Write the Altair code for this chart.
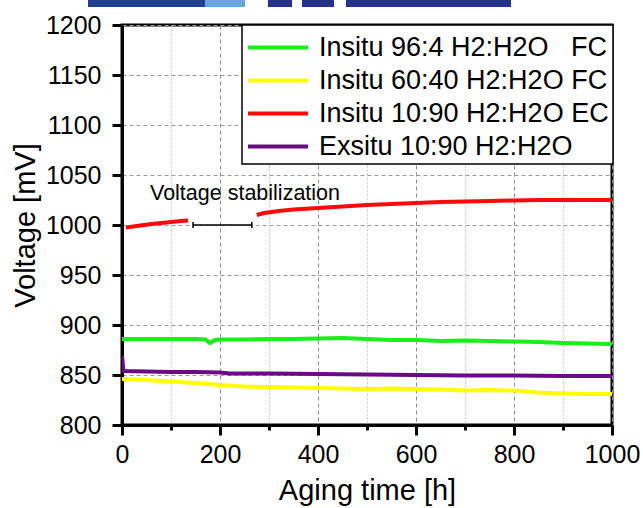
import altair as alt
import pandas as pd

FONT = "Liberation Sans"

# ---- series: aging time [h] and cell voltage [mV] ----
green_t = [0, 50, 100, 150, 170, 180, 190, 200, 250, 300, 350, 400, 450, 500,
           550, 600, 650, 700, 750, 800, 850, 900, 950, 1000]
green_v = [886, 886, 886, 886, 885.5, 882, 885, 885.5, 885.5, 886, 886, 886.5,
           887, 886, 885, 885, 884, 884.5, 884, 883.5, 883, 882, 881.5, 881]

yellow_t = [0, 50, 100, 150, 200, 250, 300, 350, 400, 450, 500, 550, 600, 650,
            700, 750, 800, 850, 900, 950, 1000]
yellow_v = [846, 845, 843.5, 842, 840, 838.5, 838, 837.5, 837, 836.5, 836,
            836.5, 836, 835.5, 834.5, 835, 834.5, 832.5, 831.5, 831, 831]

red_t_1 = [8, 30, 60, 90, 120, 135]
red_v_1 = [997.5, 999, 1001, 1002.5, 1004, 1004.5]
red_t_2 = [275, 290, 320, 350, 400, 450, 500, 550, 600, 650, 700, 750, 800,
           850, 900, 950, 1000]
red_v_2 = [1010, 1012, 1014, 1015.5, 1017, 1018.5, 1020, 1021, 1022, 1023,
           1023.5, 1024, 1024.5, 1025, 1025, 1025, 1025]

purple_t = [0, 3, 50, 100, 150, 200, 220, 300, 400, 500, 600, 700, 800, 900, 1000]
purple_v = [869, 854, 853.5, 853, 853, 852.5, 851.5, 851.5, 851, 850.5, 850,
            849.5, 849.5, 849, 849]

NBSP = "\u00a0"
series_names = ["Insitu 96:4 H2:H2O " + NBSP * 2 + "FC", "Insitu 60:40 H2:H2O FC",
                "Insitu 10:90 H2:H2O EC", "Exsitu 10:90 H2:H2O"]
series_colors = ["#19f019", "#ffff00", "#ff0a0a", "#6a0a84"]

# stabilization interval marker
stab_t = [145, 265]
stab_level = 1000
stab_cap = 3
stab_label = "Voltage stabilization"
stab_label_pos = (251, 1025)

# logo strip along the top edge (pixel extents)
logo_x0 = [-34, 83, 146, 180, 224]
logo_x1 = [86, 123, 170, 212, 389]
logo_col = ["#1f3f8f", "#6aa6e0", "#23318a", "#23318a", "#26338c"]

rows = []
for name, ts, vs, seg in [
    (series_names[0], green_t, green_v, "a"),
    (series_names[1], yellow_t, yellow_v, "b"),
    (series_names[2], red_t_1, red_v_1, "c1"),
    (series_names[2], red_t_2, red_v_2, "c2"),
    (series_names[3], purple_t, purple_v, "d"),
]:
    for t, v in zip(ts, vs):
        rows.append({"t": t, "v": v, "series": name, "seg": seg})
df = pd.DataFrame(rows)

x_scale = alt.Scale(domain=[0, 1000], nice=False, zero=False)
y_scale = alt.Scale(domain=[800, 1200], nice=False, zero=False)

major_x = "datum.value % 200 === 0"
major_y = "datum.value % 50 === 0"

x_axis = alt.Axis(
    values=list(range(0, 1001, 100)),
    format="d",
    labelExpr=f"{major_x} ? datum.label : ''",
    labelOverlap=False,
    labelFlush=False,
    tickSize={"condition": {"test": major_x, "value": 10}, "value": 5},
    grid=True,
    gridColor={"condition": {"test": major_x, "value": "#8c8c8c"}, "value": "#c4c4c4"},
    gridDash={"condition": {"test": major_x, "value": [4, 3]}, "value": [2, 2]},
    gridWidth=1,
    labelPadding=7,
    titlePadding=9,
    title="Aging time [h]",
)
y_axis = alt.Axis(
    values=list(range(800, 1201, 25)),
    format="d",
    labelExpr=f"{major_y} ? datum.label : ''",
    labelOverlap=False,
    labelFlush=False,
    tickSize={"condition": {"test": major_y, "value": 10}, "value": 5},
    grid=True,
    gridColor={"condition": {"test": major_y, "value": "#9a9a9a"}, "value": "#c4c4c4"},
    gridDash={"condition": {"test": major_y, "value": [4, 3]}, "value": [2, 2]},
    gridWidth=1,
    labelPadding=11,
    titlePadding=5,
    title="Voltage [mV]",
)

# legend swatch: a horizontal stroke drawn wider than its nominal symbol box
swatch_path = "M-1,0H2.64"

lines = alt.Chart(df).mark_line(strokeWidth=4, clip=True).encode(
    x=alt.X("t:Q", scale=x_scale, axis=x_axis),
    y=alt.Y("v:Q", scale=y_scale, axis=y_axis),
    color=alt.Color(
        "series:N",
        scale=alt.Scale(domain=series_names, range=series_colors),
        legend=alt.Legend(title=None, symbolType=swatch_path),
    ),
    detail="seg:N",
    order="t:Q",
)

bar_df = pd.DataFrame({"t": [stab_t[0]], "t2": [stab_t[1]], "v": [stab_level]})
bar = alt.Chart(bar_df).mark_rule(color="black", strokeWidth=1.5).encode(
    x=alt.X("t:Q", scale=x_scale), x2="t2:Q", y=alt.Y("v:Q", scale=y_scale)
)
cap_df = pd.DataFrame({"t": stab_t, "v": [stab_level - stab_cap] * 2,
                       "v2": [stab_level + stab_cap] * 2})
caps = alt.Chart(cap_df).mark_rule(color="black", strokeWidth=1.5).encode(
    x=alt.X("t:Q", scale=x_scale), y=alt.Y("v:Q", scale=y_scale), y2="v2:Q"
)
label_df = pd.DataFrame({"t": [stab_label_pos[0]], "v": [stab_label_pos[1]],
                         "txt": [stab_label]})
label = alt.Chart(label_df).mark_text(
    font=FONT, fontSize=21.5, align="center", baseline="alphabetic", color="black"
).encode(x=alt.X("t:Q", scale=x_scale), y=alt.Y("v:Q", scale=y_scale), text="txt:N")

logo_df = pd.DataFrame({"x0": logo_x0, "x1": logo_x1, "c": logo_col})
logo = alt.Chart(logo_df).mark_rect().encode(
    x=alt.X("x0:Q", scale=None), x2="x1:Q",
    y=alt.value(-25), y2=alt.value(-18),
    color=alt.Color("c:N", scale=None),
)

chart = alt.layer(lines, bar, caps, label, logo).properties(
    width=490, height=400,
    padding={"left": 122, "top": 25, "right": 31, "bottom": 83},
    autosize=alt.AutoSizeParams(type="none"),
).configure_view(
    stroke="black", strokeWidth=3
).configure_axis(
    domainColor="black", domainWidth=3, tickColor="black", tickWidth=3,
    labelFont=FONT, titleFont=FONT, labelColor="black", titleColor="black",
    labelFontSize=25, titleFontSize=29, titleFontWeight="normal",
).configure_legend(
    orient="none", legendX=120, legendY=0,
    symbolSize=1089, symbolStrokeWidth=4,
    labelFont=FONT, labelFontSize=27, labelColor="black", labelOffset=36,
    labelLimit=400, rowPadding=1, padding=4, cornerRadius=0,
    fillColor="white", strokeColor="black", strokeWidth=1.5,
)

chart.save("out.html", embed_options={"renderer": "svg", "actions": False})
